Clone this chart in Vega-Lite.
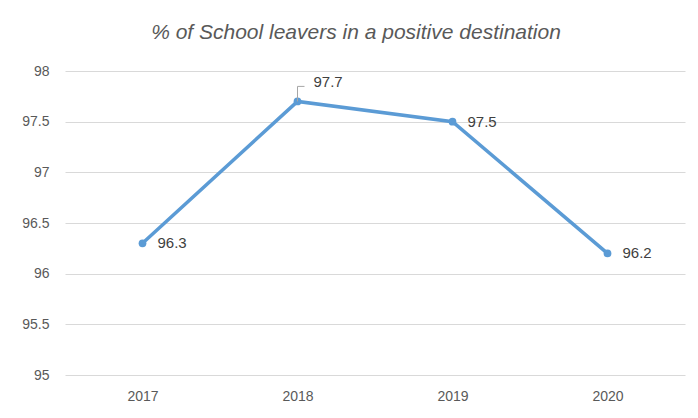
{
  "$schema": "https://vega.github.io/schema/vega-lite/v6.json",
  "width": 620,
  "height": 304,
  "autosize": {"type": "none"},
  "padding": {"left": 65, "top": 71, "right": 13, "bottom": 43},
  "background": "white",
  "config": {
    "view": {"stroke": null},
    "font": "Liberation Sans"
  },
  "title": {
    "text": "% of School leavers in a positive destination",
    "font": "Liberation Sans",
    "fontSize": 21,
    "fontStyle": "italic",
    "fontWeight": "normal",
    "color": "#595959",
    "anchor": "middle",
    "dx": -19,
    "baseline": "alphabetic",
    "offset": 4
  },
  "data": {
    "values": [
      {"year": "2017", "value": 96.3},
      {"year": "2018", "value": 97.7},
      {"year": "2019", "value": 97.5},
      {"year": "2020", "value": 96.2}
    ]
  },
  "encoding": {
    "x": {
      "field": "year",
      "type": "ordinal",
      "scale": {"type": "point", "padding": 0.5},
      "axis": {
        "title": null,
        "labelAngle": 0,
        "ticks": false,
        "domain": false,
        "grid": false,
        "labelPadding": 14,
        "labelFontSize": 14,
        "labelColor": "#595959"
      }
    },
    "y": {
      "field": "value",
      "type": "quantitative",
      "scale": {"domain": [95, 98], "nice": false, "zero": false},
      "axis": {
        "title": null,
        "values": [95, 95.5, 96, 96.5, 97, 97.5, 98],
        "format": "~f",
        "ticks": false,
        "domain": false,
        "gridColor": "#d9d9d9",
        "gridWidth": 1,
        "labelPadding": 16,
        "labelFontSize": 14,
        "labelColor": "#595959"
      }
    }
  },
  "layer": [
    {"mark": {"type": "line", "color": "#5b9bd5", "strokeWidth": 3.5}},
    {"mark": {"type": "point", "filled": true, "color": "#5b9bd5", "size": 60, "opacity": 1}},
    {
      "transform": [{"filter": "datum.year !== '2018'"}],
      "mark": {"type": "text", "align": "left", "dx": 15, "baseline": "middle", "fontSize": 15, "color": "#404040"},
      "encoding": {"text": {"field": "value", "type": "quantitative", "format": ".1f"}}
    },
    {
      "transform": [{"filter": "datum.year === '2018'"}],
      "mark": {"type": "text", "align": "left", "dx": 16, "dy": -19, "baseline": "middle", "fontSize": 15, "color": "#404040"},
      "encoding": {"text": {"field": "value", "type": "quantitative", "format": ".1f"}}
    },
    {
      "transform": [{"filter": "datum.year === '2018'"}],
      "mark": {"type": "rule", "color": "#a6a6a6", "strokeWidth": 1, "y2Offset": -15},
      "encoding": {"y2": {"field": "value"}}
    },
    {
      "transform": [{"filter": "datum.year === '2018'"}],
      "mark": {"type": "rule", "color": "#a6a6a6", "strokeWidth": 1, "yOffset": -15, "y2Offset": -15, "x2Offset": 7},
      "encoding": {"x2": {"field": "year"}, "y2": {"field": "value"}}
    }
  ]
}
